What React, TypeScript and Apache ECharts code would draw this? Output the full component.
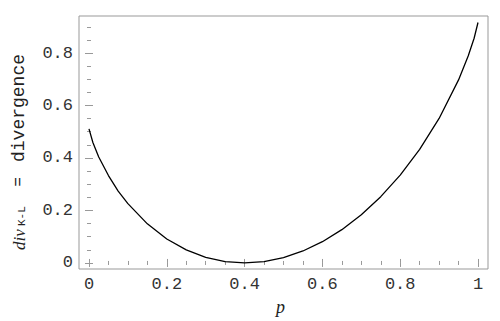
import React, { useEffect, useRef } from "react";
import * as echarts from "echarts";

const pValues = [0, 0.01, 0.025, 0.05, 0.075, 0.1, 0.15, 0.2, 0.25, 0.3, 0.35, 0.4, 0.45, 0.5, 0.55, 0.6, 0.65, 0.7, 0.75, 0.8, 0.85, 0.9, 0.95, 0.975, 0.99, 1];
const divValues = [0.511, 0.459, 0.404, 0.333, 0.274, 0.226, 0.149, 0.0915, 0.0499, 0.0216, 0.0053, 0, 0.0051, 0.0204, 0.0457, 0.0811, 0.1269, 0.1838, 0.2526, 0.3348, 0.4328, 0.5507, 0.6975, 0.7893, 0.8562, 0.9163];

const xMajorTicks = [0, 0.2, 0.4, 0.6, 0.8, 1];
const xMinorTicks = [0.05, 0.1, 0.15, 0.25, 0.3, 0.35, 0.45, 0.5, 0.55, 0.65, 0.7, 0.75, 0.85, 0.9, 0.95];
const yMajorTicks = [0, 0.2, 0.4, 0.6, 0.8];
const yMinorTicks = [0.05, 0.1, 0.15, 0.25, 0.3, 0.35, 0.45, 0.5, 0.55, 0.65, 0.7, 0.75, 0.85, 0.9];

const X_MIN = -0.0257;
const X_MAX = 1.0257;
const Y_MIN = -0.023;
const Y_MAX = 0.941;

const FRAME = "#999999";
const MONO = "'Liberation Mono', 'DejaVu Sans Mono', monospace";
const SERIF = "'Liberation Serif', 'DejaVu Serif', serif";

function makeAxis(kind: "x" | "y", position: string, values: number[], len: number, labels: boolean) {
  return {
    type: "value",
    position,
    min: kind === "x" ? X_MIN : Y_MIN,
    max: kind === "x" ? X_MAX : Y_MAX,
    axisLine: { show: false },
    splitLine: { show: false },
    axisTick: {
      show: true,
      inside: true,
      length: len,
      customValues: values,
      lineStyle: { color: FRAME, width: 1 },
    },
    axisLabel: labels
      ? {
          show: true,
          customValues: values,
          margin: kind === "x" ? 7 : 6,
          color: "#333",
          fontFamily: MONO,
          fontSize: 17,
          formatter: (v: number) => String(v),
        }
      : { show: false },
  };
}

export default function App() {
  const ref = useRef<HTMLDivElement>(null);
  useEffect(() => {
    if (!ref.current) return;
    const chart = echarts.init(ref.current, undefined, { renderer: "svg" });
    const data = pValues.map((p, i) => [p, divValues[i]]);
    chart.setOption({
      animation: false,
      backgroundColor: "#ffffff",
      grid: {
        left: 79,
        top: 16,
        right: 12,
        bottom: 52,
        show: true,
        borderColor: FRAME,
        borderWidth: 1,
        backgroundColor: "transparent",
      },
      xAxis: [
        makeAxis("x", "bottom", xMajorTicks, 4, true),
        makeAxis("x", "bottom", xMinorTicks, 2, false),
        makeAxis("x", "top", xMajorTicks, 4, false),
        makeAxis("x", "top", xMinorTicks, 2, false),
      ],
      yAxis: [
        makeAxis("y", "left", yMajorTicks, 4, true),
        makeAxis("y", "left", yMinorTicks, 2, false),
        makeAxis("y", "right", yMajorTicks, 4, false),
        makeAxis("y", "right", yMinorTicks, 2, false),
      ],
      series: [
        {
          type: "line",
          xAxisIndex: 0,
          yAxisIndex: 0,
          data,
          smooth: false,
          showSymbol: false,
          lineStyle: { color: "#000", width: 1.3 },
        },
      ],
      graphic: [
        {
          type: "text",
          left: 276,
          top: 298,
          style: { text: "p", font: `italic 18px ${SERIF}`, fill: "#222" },
        },
        {
          type: "group",
          x: 19,
          y: 250,
          rotation: Math.PI / 2,
          children: [
            {
              type: "text",
              x: 0,
              y: 0,
              style: { text: "div", font: `italic 17px ${SERIF}`, fill: "#222", align: "left", verticalAlign: "middle" },
            },
            {
              type: "text",
              x: 24,
              y: 3,
              style: { text: "K-L", font: `11px ${MONO}`, fill: "#222", align: "left", verticalAlign: "middle" },
            },
            {
              type: "text",
              x: 68,
              y: 0,
              style: { text: "=", font: `16px ${MONO}`, fill: "#222", align: "center", verticalAlign: "middle" },
            },
            {
              type: "text",
              x: 142,
              y: 0,
              style: { text: "divergence", font: `18px ${MONO}`, fill: "#222", align: "center", verticalAlign: "middle" },
            },
          ],
        },
      ],
    });
    return () => chart.dispose();
  }, []);
  return <div ref={ref} style={{ width: 500, height: 321, position: "absolute", left: 0, top: 0 }} />;
}
